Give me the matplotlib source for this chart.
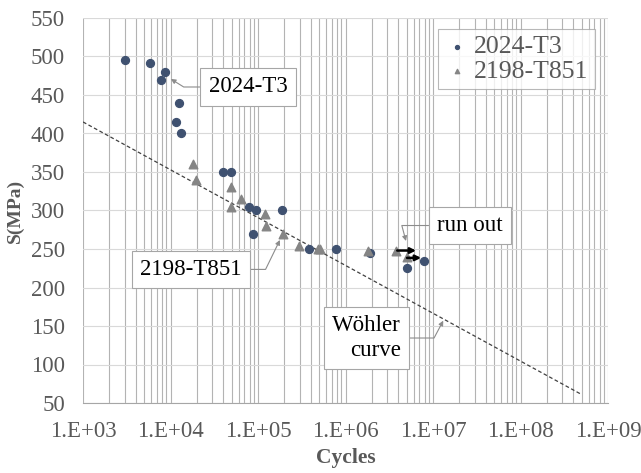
import matplotlib
matplotlib.use("Agg")
import matplotlib.pyplot as plt
from matplotlib.ticker import FixedLocator, LogLocator, NullFormatter

# --- données (cycles, contrainte en MPa) ---
cycles_2024 = [3.0e3, 5.9e3, 7.8e3, 8.6e3, 1.16e4, 1.26e4, 1.32e4, 3.95e4, 4.96e4,
               7.8e4, 8.7e4, 9.4e4, 1.86e5, 3.8e5, 7.8e5, 1.9e6, 5.0e6, 7.8e6]
stress_2024 = [495, 491, 470, 480, 415, 440, 400, 350, 350,
               305, 270, 300, 300, 250, 250, 245, 225, 235]

cycles_2198 = [1.82e4, 1.94e4, 4.9e4, 4.9e4, 6.4e4, 1.2e5, 1.23e5, 1.94e5, 2.97e5,
               4.8e5, 5.1e5, 1.8e6, 3.8e6, 5.0e6]
stress_2198 = [360, 340, 330, 304, 315, 295, 280, 270, 254,
               250, 250, 248, 248, 239]

# éprouvettes non rompues (run out) : départ -> fin de flèche
runout_start = [3.9e6, 5.05e6]
runout_end = [6.4e6, 7.3e6]
runout_stress = [248, 238.5]

# droite de Wöhler (extrémités)
wohler_cycles = [1e3, 5e8]
wohler_stress = [415, 61]

x_ticks = [1e3, 1e4, 1e5, 1e6, 1e7, 1e8, 1e9]
x_labels = ["1.E+03", "1.E+04", "1.E+05", "1.E+06", "1.E+07", "1.E+08", "1.E+09"]
y_ticks = list(range(50, 551, 50))

SERIF = "Liberation Serif"
GREY_TXT = "#595959"
NAVY = "#3f5170"
GREY_MK = "#858585"

plt.rcParams["font.family"] = SERIF

fig = plt.figure(figsize=(6.41, 4.73), dpi=100)
ax = fig.add_axes([83 / 641, 1 - 403 / 473, 525 / 641, 385 / 473])

ax.set_xscale("log")
ax.set_xlim(1e3, 1e9)
ax.set_ylim(50, 550)

# grilles
ax.xaxis.set_major_locator(FixedLocator(x_ticks))
ax.xaxis.set_minor_locator(LogLocator(base=10, subs=range(2, 10), numticks=20))
ax.xaxis.set_minor_formatter(NullFormatter())
ax.set_xticklabels(x_labels)
ax.set_yticks(y_ticks)
ax.grid(True, axis="x", which="both", color="#b3b3b3", lw=0.8)
ax.grid(True, axis="y", which="major", color="#d9d9d9", lw=0.8)
ax.set_axisbelow(True)
ax.tick_params(axis="both", which="both", length=0, labelsize=16.5, labelcolor=GREY_TXT)
ax.tick_params(axis="x", pad=13)
ax.tick_params(axis="y", pad=13)
for side in ["top", "right", "left"]:
    ax.spines[side].set_visible(False)
ax.spines["bottom"].set_color("#a6a6a6")

# courbe de Wöhler
ax.plot(wohler_cycles, wohler_stress, ls=(0, (3, 2)), lw=0.9, color="#404040", zorder=2)

# séries
ax.scatter(cycles_2024, stress_2024, s=32, marker="o", color=NAVY, zorder=3, label="2024-T3")
ax.scatter(cycles_2198, stress_2198, s=38, marker="^", color=GREY_MK, zorder=3, label="2198-T851")

# flèches run out
for x0, x1, y in zip(runout_start, runout_end, runout_stress):
    ax.annotate("", xy=(x1, y), xytext=(x0, y),
                arrowprops=dict(arrowstyle="-|>", color="black", lw=1.8,
                                mutation_scale=8, shrinkA=0, shrinkB=0), zorder=4)

# étiquettes avec renvoi coudé
box = dict(boxstyle="square,pad=0.36", fc="white", ec="#a6a6a6", lw=0.8)


def callout(text, xy, xytext, angle_b, **kw):
    ax.annotate(text, xy=xy, xytext=xytext, ha="center", va="center", fontsize=16.5,
                color="black", bbox=box, zorder=5,
                arrowprops=dict(arrowstyle="-|>", color="#8c8c8c", lw=0.8, mutation_scale=7,
                                shrinkA=0, shrinkB=0,
                                connectionstyle=f"angle,angleA=0,angleB={angle_b},rad=0"),
                **kw)


callout("2024-T3", (1.01e4, 470.8), (7.67e4, 460.4), -32)
callout("2198-T851", (1.78e5, 261.7), (1.71e4, 223.5), 64)
callout("run out", (4.91e6, 260.4), (2.65e7, 280.5), 105)
callout("Wöhler\ncurve", (1.31e7, 156.9), (1.75e6, 134.4), 62,
        multialignment="right", linespacing=1.2)

# légende
leg = ax.legend(loc="upper left", bbox_to_anchor=((438 - 83) / 525, 1 - (29 - 18) / 385),
                fontsize=18.5, frameon=True, fancybox=False, edgecolor="#a6a6a6",
                markerscale=0.5, handletextpad=0.15, labelspacing=0.05, borderpad=0.25,
                handlelength=1.0, borderaxespad=0)
leg.get_frame().set_linewidth(0.8)
for t in leg.get_texts():
    t.set_color(GREY_TXT)

# titres d'axes
ax.set_xlabel("Cycles", fontsize=15.5, fontweight="bold", color=GREY_TXT, va="center")
ax.xaxis.set_label_coords(0.501, -(458 - 403) / 385)
ax.set_ylabel("S(MPa)", fontsize=14, fontweight="bold", color=GREY_TXT, va="center")
ax.yaxis.set_label_coords(-(83 - 15) / 525, 0.5)

fig.savefig("out.png", dpi=100)
